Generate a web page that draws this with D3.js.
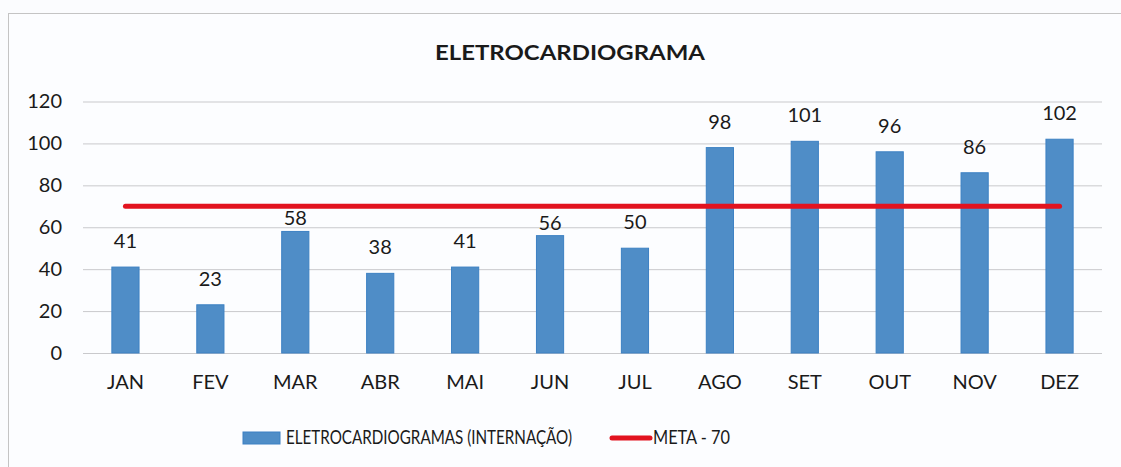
<!DOCTYPE html>
<html><head><meta charset="utf-8">
<script src="https://cdn.jsdelivr.net/npm/d3@7"></script>
<style>
html,body{margin:0;padding:0;background:#fbfcfe;}
svg{display:block;font-family:Lato,"Open Sans",sans-serif;}
</style></head>
<body><svg id="c" width="1121" height="467"></svg>
<script>
const months = ["JAN","FEV","MAR","ABR","MAI","JUN","JUL","AGO","SET","OUT","NOV","DEZ"];
const exames = [41,23,58,38,41,56,50,98,101,96,86,102];
const meta = [70,70,70,70,70,70,70,70,70,70,70,70];
const yTicks = [0,20,40,60,80,100,120];
const title = "ELETROCARDIOGRAMA";
const legendBar = "ELETROCARDIOGRAMAS (INTERNAÇÃO)";
const legendLine = "META - 70";

const svg = d3.select("#c");
const W = 1121, H = 467;
const m = {left:83, right:19};
const x = d3.scaleBand().domain(months).range([m.left, W-m.right]).paddingInner(0.68).paddingOuter(0.34);
const y = d3.scaleLinear().domain([0,120]).range([353,101.5]);

// frame
svg.append("rect").attr("x",8.5).attr("y",13.5).attr("width",W+20).attr("height",H+20)
  .attr("fill","#fcfdff").attr("stroke","#c4c4c4").attr("stroke-width",1);

// title
svg.append("text").attr("x",570).attr("y",60).attr("text-anchor","middle")
  .attr("font-size",21).attr("font-weight","bold").attr("fill","#1a1a1a")
  .attr("textLength",270).attr("lengthAdjust","spacingAndGlyphs").text(title);

// grid + y axis
const yAxis = d3.axisLeft(y).tickValues(yTicks).tickSize(-(W-m.right-m.left)).tickPadding(21);
const gy = svg.append("g").attr("transform",`translate(${m.left},0)`).call(yAxis);
gy.select(".domain").remove();
gy.selectAll(".tick line").attr("stroke","#c9c9cc").attr("stroke-width",1);
gy.selectAll(".tick text").attr("font-size",20).attr("fill","#1a1a1a").attr("font-family","Lato, 'Open Sans', sans-serif");

// x axis
const xAxis = d3.axisBottom(x).tickSize(0).tickPadding(22);
const gx = svg.append("g").attr("transform",`translate(0,${y(0)})`).call(xAxis);
gx.select(".domain").remove();
gx.selectAll(".tick text").attr("font-size",20).attr("fill","#1a1a1a").attr("font-family","Lato, 'Open Sans', sans-serif");

// bars
svg.append("g").selectAll("rect").data(exames).join("rect")
  .attr("x",(d,i)=>x(months[i])).attr("width",x.bandwidth())
  .attr("y",d=>y(d)).attr("height",d=>y(0)-y(d))
  .attr("fill","#4f8dc7").attr("stroke","#3c80c3").attr("stroke-width",1);

// meta line
const line = d3.line().x((d,i)=>x(months[i])+x.bandwidth()/2).y(d=>y(d));
svg.append("path").datum(meta).attr("d",line).attr("fill","none")
  .attr("stroke","#e2131f").attr("stroke-width",5).attr("stroke-linecap","round");

// data labels
const yMeta = y(70);
svg.append("g").selectAll("text").data(exames).join("text")
  .attr("x",(d,i)=>x(months[i])+x.bandwidth()/2)
  .attr("y",(d,i)=>{
    let b = y(d)-19;
    const top = b-13;
    if (b > yMeta-3 && top < yMeta+3) b = y(d)-6;
    return b;
  })
  .attr("text-anchor","middle").attr("font-size",20).attr("fill","#1a1a1a").text(d=>d);

// legend
const lg = svg.append("g");
lg.append("rect").attr("x",243).attr("y",432).attr("width",37).attr("height",12)
  .attr("fill","#4f8dc7").attr("stroke","#3c80c3");
lg.append("text").attr("x",286).attr("y",444).attr("font-size",19).attr("fill","#1a1a1a")
  .attr("textLength",286).attr("lengthAdjust","spacingAndGlyphs").text(legendBar);
lg.append("line").attr("x1",612).attr("x2",650).attr("y1",438).attr("y2",438)
  .attr("stroke","#e2131f").attr("stroke-width",5).attr("stroke-linecap","round");
lg.append("text").attr("x",653).attr("y",444).attr("font-size",19).attr("fill","#1a1a1a")
  .attr("textLength",77).attr("lengthAdjust","spacingAndGlyphs").text(legendLine);
</script></body></html>
